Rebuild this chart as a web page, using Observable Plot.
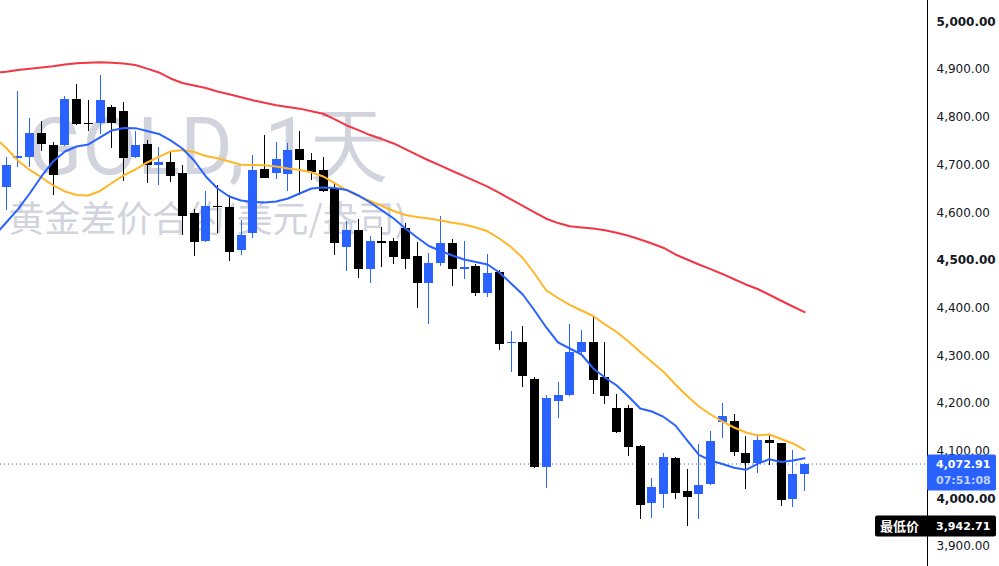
<!DOCTYPE html>
<html>
<head>
<meta charset="utf-8">
<script src="https://cdn.jsdelivr.net/npm/d3@7"></script>
<script src="https://cdn.jsdelivr.net/npm/@observablehq/plot@0.6"></script>
<style>
  html, body { margin: 0; padding: 0; background: #ffffff; }
  #chart svg { display: block; }
</style>
</head>
<body>
<div id="chart"></div>
<script>
// ---- Data ----
const titleText = "GOLD, 1天";
const subtitleText = "黄金差价合约(美元/盎司)";

const opens  = [4653,4713,4716,4766,4741,4740,4837,4788,4788,4821,4812,4716,4743,4700,4705,4682,4598,4540,4613,4611,4521,4557,4691,4683,4681,4733,4710,4689,4651,4528,4563,4480,4540,4540,4566,4508,4452,4494,4536,4480,4487,4431,4475,4325,4328,4250,4066,4204,4216,4306,4328,4254,4189,4189,4110,3991,4008,4085,4015,4008,4031,4161,4162,4095,4073,4122,4117,3999,4051];
const highs  = [4716,4854,4798,4791,4748,4844,4869,4835,4888,4825,4831,4770,4752,4736,4726,4698,4607,4645,4657,4636,4584,4720,4762,4747,4745,4770,4724,4716,4664,4582,4585,4550,4569,4545,4577,4538,4515,4592,4544,4540,4491,4512,4479,4351,4361,4254,4217,4244,4366,4353,4381,4328,4219,4196,4112,4043,4095,4087,4061,4114,4141,4200,4177,4131,4135,4133,4117,4101,4073];
const lows   = [4605,4695,4695,4729,4636,4738,4783,4770,4764,4735,4666,4714,4662,4656,4664,4552,4509,4538,4557,4498,4510,4545,4671,4670,4645,4636,4668,4643,4510,4477,4463,4452,4486,4491,4480,4400,4365,4488,4446,4460,4425,4423,4310,4265,4234,4064,4022,4169,4214,4304,4218,4198,4136,4089,3957,3959,3980,3998,3942.71,3957,4028,4127,4089,4020,4052,4070,3984,3982,4016];
const closes = [4699,4718,4766,4742,4678,4837,4785,4784,4835,4788,4714,4741,4700,4705,4676,4593,4538,4613,4610,4517,4552,4689,4672,4711,4730,4710,4685,4645,4535,4563,4480,4540,4535,4505,4502,4452,4494,4536,4480,4485,4430,4473,4324,4328,4257,4066,4210,4217,4307,4328,4249,4215,4140,4108,3986,4024,4087,4012,4003,4028,4120,4173,4098,4075,4122,4117,3997,4051,4072.91];

// Moving averages: first value belongs to the bar just left of the visible window (index -1)
const maFast = [4552,4579.5,4606.8,4640.3,4676.0,4707.4,4728.4,4738.9,4743.1,4757.8,4772.4,4777.7,4777.3,4771.4,4765.1,4751.5,4734.7,4709.5,4676.0,4650.8,4634.0,4625.6,4622.5,4621.4,4623.5,4629.8,4640.3,4650.8,4652.9,4651.8,4647.7,4636.1,4621.4,4604.7,4587.9,4566.9,4548.0,4530.2,4519.7,4510.3,4501.9,4496.6,4491.4,4474.6,4451.6,4428.5,4394.9,4359.3,4327.8,4315.2,4302.6,4273.3,4254.4,4237.6,4214.6,4189.4,4183.1,4171.6,4153.7,4122.3,4091.9,4080.3,4073.0,4065.0,4060.8,4073.4,4083.1,4077.2,4080.3,4085.2];
const maMid  = [4757.8,4735.7,4709.5,4689.6,4673.9,4657.1,4644.5,4637.2,4636.1,4645.6,4662.3,4678.1,4690.6,4705.3,4716.9,4728.4,4731.5,4727.4,4719.0,4714.3,4707.4,4700.5,4700.1,4699.5,4696.9,4692.7,4689.6,4684.8,4676.0,4661.3,4646.6,4634.7,4624.6,4614.1,4603.6,4595.2,4591.0,4587.9,4583.7,4578.7,4575.3,4569.0,4561.0,4545.9,4528.1,4505.0,4472.5,4436.9,4421.1,4406.5,4394.9,4383.4,4365.6,4349.8,4329.9,4307.9,4286.9,4265.9,4239.7,4215.6,4193.6,4176.8,4162.1,4149.5,4139.1,4132.8,4134.9,4125.4,4116.0,4102.8];
const maSlow = [4893.0,4895.8,4899.3,4901.8,4904.6,4907.3,4910.9,4913.4,4914.6,4915.7,4914.6,4913.0,4909.8,4902.1,4894.1,4881.5,4872.1,4866.8,4861.6,4854.2,4848.4,4842.1,4835.8,4830.5,4825.3,4821.7,4818.2,4812.9,4807.5,4795.5,4782.9,4773.1,4762.8,4754.4,4745.2,4733.4,4721.1,4709.5,4698.6,4687.5,4676.6,4665.5,4654.8,4641.4,4627.7,4614.5,4600.9,4587.3,4578.2,4571.5,4569.0,4566.9,4563.1,4558.1,4551.6,4543.8,4535.4,4526.0,4512.4,4501.9,4491.4,4481.5,4471.5,4460.4,4449.5,4440.0,4427.9,4415.3,4403.3,4391.4];

const priceTicks = [3900,4000,4100,4200,4300,4400,4500,4600,4700,4800,4900,5000];
const boldTicks  = [4000,4500,5000];

const lastPrice = 4072.91;
const countdown = "07:51:08";
const lowPrice = 3942.71;
const lowLabel = "最低价";

// ---- Build tables ----
const candles = opens.map((o, i) => ({i, open: o, high: highs[i], low: lows[i], close: closes[i]}));
const upC = candles.filter(d => d.close >= d.open);
const downC = candles.filter(d => d.close < d.open);
const maRows = arr => arr.map((v, k) => ({i: k - 1, v}));

const BLUE = "#2962ff", BLACK = "#000000";
const fmt = d3.format(",.2f");

function overlay(...args) {
  const scales = (args[1] && typeof args[1].y === "function") ? args[1]
    : args.find(a => a && typeof a.y === "function" && typeof a.x === "function");
  const dims = args.find(a => a && typeof a.width === "number" && typeof a.marginRight === "number");
  const W = dims.width, axisX = dims.width - dims.marginRight;
  const g = d3.create("svg:g").attr("text-anchor", "start");
  // axis line
  g.append("line").attr("x1", axisX + 0.5).attr("x2", axisX + 0.5)
    .attr("y1", 0).attr("y2", dims.height).attr("stroke", "#000").attr("stroke-width", 1);
  // last price box
  const yp = scales.y(lastPrice);
  g.append("rect").attr("x", axisX).attr("y", yp - 9).attr("width", W - axisX - 3).attr("height", 36)
    .attr("rx", 2).attr("fill", BLUE);
  g.append("text").attr("x", axisX + 9).attr("y", yp + 1).attr("dy", "0.35em").attr("text-anchor", "start")
    .attr("fill", "#fff").attr("font-weight", "bold").attr("font-size", 11)
    .attr("font-family", "DejaVu Sans").text(fmt(lastPrice));
  g.append("text").attr("x", axisX + 9).attr("y", yp + 17).attr("dy", "0.35em").attr("text-anchor", "start")
    .attr("fill", "#fff").attr("fill-opacity", 0.72).attr("font-weight", "bold").attr("font-size", 11)
    .attr("font-family", "DejaVu Sans").text(countdown);
  // lowest price box
  const yl = scales.y(lowPrice);
  g.append("rect").attr("x", axisX - 52).attr("y", yl - 10).attr("width", W - axisX - 3 + 52).attr("height", 21)
    .attr("rx", 2).attr("fill", "#000");
  g.append("text").attr("x", axisX - 47).attr("y", yl + 1).attr("dy", "0.35em").attr("text-anchor", "start")
    .attr("fill", "#fff").attr("font-weight", "bold").attr("font-size", 13)
    .attr("font-family", "Noto Sans CJK SC").text(lowLabel);
  g.append("text").attr("x", axisX + 9).attr("y", yl + 1).attr("dy", "0.35em").attr("text-anchor", "start")
    .attr("fill", "#fff").attr("font-weight", "bold").attr("font-size", 11)
    .attr("font-family", "DejaVu Sans").text(fmt(lowPrice));
  return g.node();
}

const chart = Plot.plot({
  width: 999,
  height: 566,
  marginLeft: 0,
  marginRight: 72,
  marginTop: 0,
  marginBottom: 0,
  style: {background: "#ffffff", fontFamily: "DejaVu Sans", overflow: "visible"},
  x: {domain: [-0.486, 78.47], axis: null},
  y: {domain: [3858, 5045], axis: null},
  marks: [
    // watermark
    Plot.text([titleText], {frameAnchor: "top-left", dx: 208, dy: 173, textAnchor: "middle", lineAnchor: "bottom",
      fontSize: 80, fontFamily: "Roboto", fill: "#d1d4dc"}),
    Plot.text([subtitleText], {frameAnchor: "top-left", dx: 207, dy: 231, textAnchor: "middle", lineAnchor: "bottom",
      fontSize: 36, fontFamily: "Noto Sans CJK SC", fill: "#d1d4dc"}),
    // current price dotted line
    Plot.ruleY([lastPrice], {stroke: BLUE, strokeDasharray: "1,3", strokeWidth: 1}),
    // wicks
    Plot.ruleX(upC, {x: "i", y1: "low", y2: "high", stroke: BLUE, strokeWidth: 1, shapeRendering: "crispEdges"}),
    Plot.ruleX(downC, {x: "i", y1: "low", y2: "high", stroke: BLACK, strokeWidth: 1, shapeRendering: "crispEdges"}),
    // bodies
    Plot.ruleX(upC, {x: "i", y1: "open", y2: "close", stroke: BLUE, strokeWidth: 9, shapeRendering: "crispEdges"}),
    Plot.ruleX(downC, {x: "i", y1: "open", y2: "close", stroke: BLACK, strokeWidth: 9, shapeRendering: "crispEdges"}),
    // moving averages
    Plot.line(maRows(maSlow), {x: "i", y: "v", stroke: "#f23645", strokeWidth: 2, clip: true}),
    Plot.line(maRows(maMid), {x: "i", y: "v", stroke: "#ffb629", strokeWidth: 2, clip: true}),
    Plot.line(maRows(maFast), {x: "i", y: "v", stroke: BLUE, strokeWidth: 2, clip: true}),
    // price axis labels
    Plot.text(priceTicks.filter(t => !boldTicks.includes(t)), {y: d => d, text: d => fmt(d), frameAnchor: "right",
      textAnchor: "start", dx: 9, fontSize: 12, fill: "#131722", fontFamily: "DejaVu Sans"}),
    Plot.text(boldTicks, {y: d => d, text: d => fmt(d), frameAnchor: "right",
      textAnchor: "start", dx: 9, fontSize: 12, fill: "#131722", fontWeight: "bold", fontFamily: "DejaVu Sans"}),
    overlay
  ]
});

document.getElementById("chart").appendChild(chart);
</script>
</body>
</html>
